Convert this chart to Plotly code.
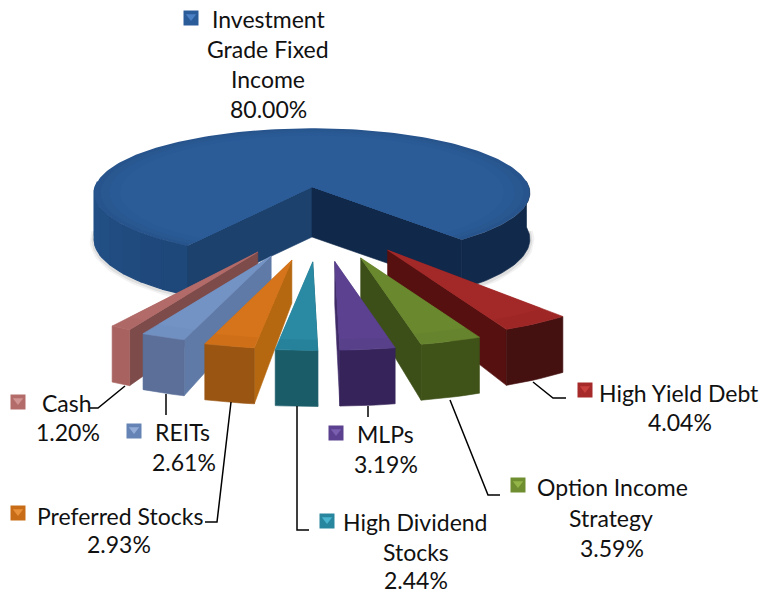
import math
import plotly.graph_objects as go

# ---- data -----------------------------------------------------------------
categories = ["High Yield Debt", "Option Income Strategy", "MLPs", "High Dividend Stocks",
              "Preferred Stocks", "REITs", "Cash", "Investment Grade Fixed Income"]
values = [4.04, 3.59, 3.19, 2.44, 2.93, 2.61, 1.20, 80.00]

# ---- styles: top, outer wall, cut wall, key, key highlight ------------------
top_colors = ["#9e2726", "#66842e", "#58408a", "#26829a", "#cf7019", "#7090c2", "#ae6866", "#2b5c9a"]
top_inner = ["#a32928", "#6a882e", "#5b418f", "#2a8aa3", "#d5741a", "#7393c4", "#b26b68", "#2b5c98"]
wall_colors = ["#441010", "#3f5319", "#352359", "#1b5c69", "#9a5512", "#5b6f99", "#a86361", "#1f4a7e"]
cut_colors = ["#561010", "#3c4f18", "#402b68", "#1b5c69", "#b5680f", "#5f7aa6", "#7d4b4a", "#1c416d"]
key_colors = ["#a52a29", "#6f8e30", "#5b418f", "#28869f", "#c96c17", "#6583b5", "#b36c69", "#2b5c9a"]
key_light = ["#c8403e", "#93b548", "#7a5fb0", "#4bb4ce", "#e8913a", "#93add8", "#d09592", "#4c80c4"]

# ---- label layout: text lines (x, y centre) -------------------------------
label_lines = [
    [("High Yield Debt", 679, 393), ("{v}", 680, 422)],
    [("Option Income", 612, 487), ("Strategy", 611, 518), ("{v}", 612, 548)],
    [("MLPs", 385, 434), ("{v}", 386, 464)],
    [("High Dividend", 415, 522), ("Stocks", 416, 552), ("{v}", 416, 580)],
    [("Preferred Stocks", 120, 516), ("{v}", 119, 544)],
    [("REITs", 182, 432), ("{v}", 184, 462)],
    [("Cash", 67, 403), ("{v}", 68, 432)],
    [("Investment", 268, 19), ("Grade Fixed", 268, 49), ("Income", 268, 79), ("{v}", 268, 109)],
]
key_positions = [(585, 390), (518, 485), (336, 433), (327, 521), (18, 513), (134, 431), (18, 402), (191, 18)]
leaders = [
    [(533, 382), (553, 398), (566, 398)],
    [(450, 400), (488, 495), (500, 495)],
    [(368, 406), (368, 417)],
    [(297, 406), (297, 530), (309, 530)],
    [(231, 402), (217, 522), (205, 522)],
    [(166, 394), (166, 415)],
    [(125, 386), (98, 408), (90, 408)],
]

# ---- projection -----------------------------------------------------------
CX, CY = 312, 187
RX, RY, K = 217, 64, 0.09
START = 40.0          # degrees from straight down, first slice edge
EXPL_A, EXPL_B, EXPL_SHIFT = 125, 75, 8
SCALE_X, SCALE_Y = 1.17, 1.26
H_APEX, H_OUT = 43, 56
H_BLUE = 46


def proj(theta):
    t = math.radians(theta)
    X, Y = math.sin(t), math.cos(t)
    w = 1 - K * Y
    return RX * X / w, RY * Y / w, w


fig = go.Figure()


def poly(pts, color, lw=0.6):
    xs = [p[0] for p in pts] + [pts[0][0]]
    ys = [p[1] for p in pts] + [pts[0][1]]
    fig.add_trace(go.Scatter(x=xs, y=ys, mode="lines", fill="toself", fillcolor=color,
                             line=dict(color=color, width=lw), hoverinfo="skip", showlegend=False))


def mix(a, b, f):
    ca = [int(a[i:i + 2], 16) for i in (1, 3, 5)]
    cb = [int(b[i:i + 2], 16) for i in (1, 3, 5)]
    return "#%02x%02x%02x" % tuple(round(x + (y - x) * f) for x, y in zip(ca, cb))


def arc(t0, t1, n=None):
    n = n or max(2, int(abs(t1 - t0) / 1.5) + 1)
    return [t0 + (t1 - t0) * i / (n - 1) for i in range(n)]


# slice angular edges, clockwise on screen from START
edges = [START]
for v in values:
    edges.append(edges[-1] - v * 3.6)

# ---- big slice ------------------------------------------------------------
i_big = len(values) - 1
t_left, t_right = edges[i_big], edges[i_big + 1]


def blue_pt(theta, scale=1.0, drop=0.0):
    x, y, w = proj(theta)
    return (CX + x * scale, CY + y * scale + drop)


def blue_h(theta):
    return H_BLUE / proj(theta)[2]


# soft shadow
for width, alpha in ((9, 0.05), (5, 0.08)):
    for th_s in (arc(-92, t_left), arc(START, 92)):
        xs = [blue_pt(t, 1, blue_h(t) + 1)[0] for t in th_s]
        ys = [blue_pt(t, 1, blue_h(t) + 1)[1] for t in th_s]
        fig.add_trace(go.Scatter(x=xs, y=ys, mode="lines", line=dict(color=f"rgba(0,0,0,{alpha})", width=width),
                                 hoverinfo="skip", showlegend=False))

# outer wall, left (graded) and right (dark)
th = arc(-95, t_left, 9)
for a, b in zip(th[:-1], th[1:]):
    f = (a + 95) / (t_left + 95)
    seg = arc(a, b, 6)
    col = mix("#24538a", "#1d4678", f)
    poly([blue_pt(t) for t in seg] + [blue_pt(t, 1, blue_h(t)) for t in reversed(seg)], col, 1.2)
seg = arc(START, 95, 40)
poly([blue_pt(t) for t in seg] + [blue_pt(t, 1, blue_h(t)) for t in reversed(seg)], "#11294a")

# cut walls
poly([(CX, CY), blue_pt(t_left), blue_pt(t_left, 1, blue_h(t_left)), (CX, CY + 50)], cut_colors[i_big])
poly([(CX, CY), blue_pt(START), blue_pt(START, 1, blue_h(START)), (CX, CY + 50)], "#10284a")

# top face with soft rim
th = arc(t_left, t_right, 200)
for s, f in ((1.0, 0.0), (0.97, 0.45), (0.93, 0.8), (0.88, 1.0)):
    pts = [(CX, CY)] + [blue_pt(t, s) for t in th]
    poly(pts, mix("#27548c", top_inner[i_big], f), 0)

# ---- exploded slices ------------------------------------------------------
draw_order = [0, 1, 2, 6, 5, 4, 3]
for i in draw_order:
    t0, t1 = edges[i], edges[i + 1]
    tm = (t0 + t1) / 2
    ax = CX + EXPL_SHIFT + EXPL_A * math.sin(math.radians(tm))
    ay = CY + EXPL_B * math.cos(math.radians(tm))

    def pt(theta, s=1.0):
        x, y, _ = proj(theta)
        return (ax + x * SCALE_X * s, ay + y * SCALE_Y * s)

    th = arc(t0, t1, 8)
    outer = [pt(t) for t in th]
    apex_b = (ax, ay + H_APEX)
    # cut wall facing the viewer: the side nearest the centre line
    p = pt(t1) if (t0 > 0 and t1 > 0) else pt(t0)
    poly([(ax, ay), p, (p[0], p[1] + H_OUT), apex_b], cut_colors[i])
    # outer wall
    poly(outer + [(q[0], q[1] + H_OUT) for q in reversed(outer)], wall_colors[i])
    # top
    poly([(ax, ay)] + outer, top_colors[i])
    poly([(ax, ay)] + [pt(t, 0.88) for t in th], top_inner[i], 0)

# ---- leaders --------------------------------------------------------------
for ld in leaders:
    fig.add_trace(go.Scatter(x=[p[0] for p in ld], y=[p[1] for p in ld], mode="lines",
                             line=dict(color="#000000", width=1.5), hoverinfo="skip", showlegend=False))

# ---- legend keys ----------------------------------------------------------
for (kx, ky), c, l in zip(key_positions, key_colors, key_light):
    fig.add_trace(go.Scatter(x=[kx], y=[ky], mode="markers",
                             marker=dict(symbol="square", size=15, color=c, line=dict(width=0)),
                             hoverinfo="skip", showlegend=False))
    fig.add_trace(go.Scatter(x=[kx], y=[ky - 1.5], mode="markers",
                             marker=dict(symbol="triangle-down", size=9, color=l, line=dict(width=0)),
                             hoverinfo="skip", showlegend=False))

# ---- text -----------------------------------------------------------------
annotations = []
for lines, v in zip(label_lines, values):
    for txt, x, y in lines:
        annotations.append(dict(x=x, y=y, xref="x", yref="y", showarrow=False, xanchor="center", yanchor="middle",
                                text=txt.format(v=f"{v:.2f}%"),
                                font=dict(family="Lato, Carlito, sans-serif", size=23, color="#111111")))

fig.update_layout(
    width=767, height=595, margin=dict(l=0, r=0, t=0, b=0),
    paper_bgcolor="white", plot_bgcolor="white", showlegend=False,
    xaxis=dict(range=[0, 767], visible=False, fixedrange=True),
    yaxis=dict(range=[595, 0], visible=False, fixedrange=True),
    annotations=annotations,
)
fig.write_html("out.html", config={"displayModeBar": False},
               post_script="document.body.style.margin='0';document.body.style.overflow='hidden';")
